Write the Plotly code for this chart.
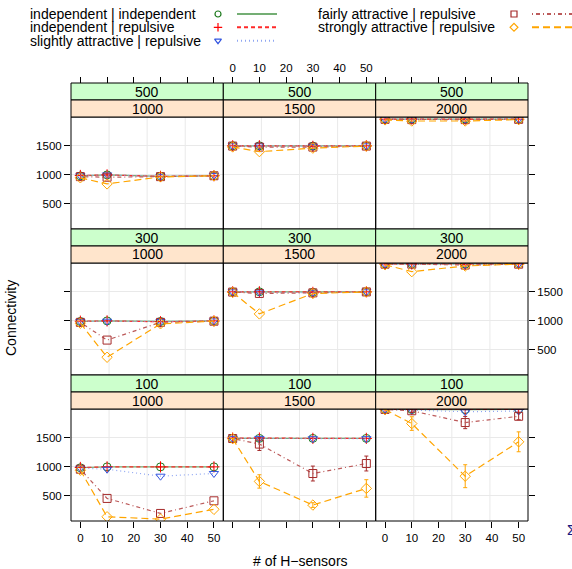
import plotly.graph_objects as go

W, H = 572, 569

# ---------------- data ----------------
x_vals = [0, 10, 30, 50]
outer_levels = ["500", "300", "100"]      # green strips (rows, top -> bottom)
inner_levels = ["1000", "1500", "2000"]   # orange strips (columns)
x_ticks = [0, 10, 20, 30, 40, 50]
y_ticks = [500, 1000, 1500]
series_names = ["independent | independent", "independent | repulsive",
                "slightly attractive | repulsive", "fairly attractive | repulsive",
                "strongly attractive | repulsive"]

# one list per panel, panels in row-major order (500/1000, 500/1500, ..., 100/2000)
indep_indep = [
    [983, 1000, 975, 985], [1500, 1500, 1495, 1500], [1958, 1960, 1960, 1958],
    [990, 1000, 990, 1000], [1500, 1500, 1490, 1500], [1978, 1978, 1975, 1978],
    [985, 1000, 1000, 1000], [1490, 1490, 1490, 1490], [1990, 1985, 1985, 1988],
]
indep_rep = [
    [990, 1000, 975, 985], [1500, 1500, 1490, 1500], [1958, 1960, 1958, 1958],
    [995, 1000, 985, 1000], [1500, 1500, 1490, 1500], [1978, 1978, 1972, 1978],
    [990, 1000, 1000, 1000], [1495, 1495, 1490, 1490], [1990, 1988, 1985, 1988],
]
slight_rep = [
    [985, 1000, 975, 990], [1500, 1500, 1490, 1500], [1958, 1955, 1955, 1958],
    [990, 995, 990, 1000], [1500, 1495, 1485, 1500], [1975, 1975, 1968, 1978],
    [980, 960, 840, 887], [1490, 1490, 1485, 1485], [1990, 1980, 1948, 1960],
]
fair_rep = [
    [970, 960, 970, 985], [1495, 1478, 1478, 1495], [1955, 1950, 1950, 1955],
    [975, 670, 975, 995], [1495, 1472, 1482, 1498], [1975, 1975, 1960, 1975],
    [960, 458, 200, 417], [1488, 1392, 886, 1058], [1988, 1965, 1762, 1870],
]
fair_rep_err = [
    [0, 0, 0, 0], [0, 0, 0, 0], [0, 0, 0, 0],
    [0, 0, 0, 0], [0, 0, 0, 0], [0, 0, 0, 0],
    [0, 0, 0, 0], [0, 110, 128, 128], [0, 30, 105, 60],
]
strong_rep = [
    [950, 845, 965, 985], [1480, 1400, 1460, 1495], [1945, 1926, 1926, 1950],
    [960, 375, 950, 995], [1490, 1120, 1470, 1498], [1965, 1846, 1944, 1975],
    [943, 143, 103, 270], [1485, 750, 344, 630], [1985, 1745, 840, 1431],
]
strong_rep_err = [
    [0, 0, 0, 0], [0, 0, 0, 0], [0, 0, 0, 0],
    [0, 0, 0, 0], [0, 0, 0, 0], [0, 0, 0, 0],
    [0, 0, 0, 0], [0, 115, 40, 150], [0, 117, 197, 171],
]

series_values = [indep_indep, indep_rep, slight_rep, fair_rep, strong_rep]
series_errors = [None, None, None, fair_rep_err, strong_rep_err]

# ---------------- styles ----------------
FONT = "Liberation Sans, Arial, Helvetica, sans-serif"
styles = [
    dict(symbol="circle-open", mcolor="#1E7A1E", lcolor="#74AE74", dash="solid"),
    dict(symbol="cross-thin-open", mcolor="#FF0000", lcolor="#FF2A2A", dash="4px,3px"),
    dict(symbol="triangle-down-open", mcolor="#3355E0", lcolor="#8FA6F2", dash="1px,3px"),
    dict(symbol="square-open", mcolor="#A52A2A", lcolor="#BC5A5A", dash="1px,3px,4px,3px"),
    dict(symbol="diamond-open", mcolor="#FFA500", lcolor="#FFA500", dash="7px,4px"),
]
GREEN_STRIP = "#CCFFCC"
ORANGE_STRIP = "#FFE5CC"
GRID = "#E9E9E9"

col_edges = [71, 223.3, 375.7, 528]
row_tops = [83, 229, 375]
STRIP_H = 17
PANEL_H = 112
X_RANGE = [-3.5, 53.5]
Y_RANGE = [70, 1995]

fig = go.Figure()
shapes = []
annotations = []

for r in range(3):
    for c in range(3):
        k = r * 3 + c + 1
        p = r * 3 + c
        xa = "x" if k == 1 else f"x{k}"
        ya = "y" if k == 1 else f"y{k}"
        for s in range(5):
            st = styles[s]
            err = series_errors[s]
            tr = go.Scatter(
                x=x_vals, y=series_values[s][p], xaxis=xa, yaxis=ya,
                mode="lines+markers", showlegend=False,
                line=dict(color=st["lcolor"], width=1.2, dash=st["dash"]),
                marker=dict(symbol=st["symbol"], size=8, color=st["mcolor"],
                            line=dict(color=st["mcolor"], width=1)),
            )
            if err is not None and any(v > 0 for v in err[p]):
                tr.error_y = dict(type="data", array=err[p], visible=True,
                                  color=st["mcolor"], thickness=1, width=2)
            fig.add_trace(tr)

        x0p, x1p = col_edges[c], col_edges[c + 1]
        top = row_tops[r]
        ptop = top + 2 * STRIP_H
        pbot = ptop + PANEL_H
        xdom = [x0p / W, x1p / W]
        ydom = [1 - pbot / H, 1 - ptop / H]

        xaxis = dict(domain=xdom, range=X_RANGE, tickvals=x_ticks, showgrid=False,
                     zeroline=False, showline=False, ticklen=6, tickwidth=1,
                     tickcolor="black", tickfont=dict(size=11.5, color="black", family=FONT),
                     fixedrange=True)
        if r == 2:
            xaxis.update(ticks="outside", side="bottom", anchor=ya, showticklabels=(c != 1))
        elif r == 0:
            xaxis.update(ticks="outside", side="top", anchor="free",
                         position=1 - row_tops[0] / H, showticklabels=(c == 1))
        else:
            xaxis.update(ticks="", showticklabels=False, anchor=ya)

        yaxis = dict(domain=ydom, range=Y_RANGE, tickvals=y_ticks, showgrid=True,
                     gridcolor=GRID, gridwidth=1, zeroline=False, showline=False,
                     ticklen=6, tickwidth=1, tickcolor="black", anchor=xa,
                     tickfont=dict(size=11.5, color="black", family=FONT),
                     fixedrange=True)
        if c == 0:
            yaxis.update(side="left", ticks="outside", showticklabels=(r != 1))
        elif c == 2:
            yaxis.update(side="right", ticks="outside", showticklabels=(r == 1))
        else:
            yaxis.update(ticks="", showticklabels=False)

        fig.layout["xaxis" if k == 1 else f"xaxis{k}"] = xaxis
        fig.layout["yaxis" if k == 1 else f"yaxis{k}"] = yaxis

        # vertical grid lines at equal divisions of the panel
        for f in (0.25, 0.5, 0.75):
            shapes.append(dict(type="line", xref=f"{xa} domain", yref=f"{ya} domain",
                               x0=f, x1=f, y0=0, y1=1, layer="below",
                               line=dict(color=GRID, width=1)))
        # panel border
        shapes.append(dict(type="rect", xref="paper", yref="paper",
                           x0=x0p / W, x1=x1p / W, y0=1 - pbot / H, y1=1 - ptop / H,
                           layer="above", line=dict(color="black", width=1)))
        # strips
        for j, (lab, col) in enumerate([(outer_levels[r], GREEN_STRIP),
                                        (inner_levels[c], ORANGE_STRIP)]):
            sy0 = top + j * STRIP_H
            sy1 = sy0 + STRIP_H
            shapes.append(dict(type="rect", xref="paper", yref="paper",
                               x0=x0p / W, x1=x1p / W, y0=1 - sy1 / H, y1=1 - sy0 / H,
                               layer="above", fillcolor=col,
                               line=dict(color="black", width=1)))
            annotations.append(dict(text=lab, xref="paper", yref="paper",
                                    x=(x0p + x1p) / 2 / W, y=1 - (sy0 + sy1) / 2 / H,
                                    xanchor="center", yanchor="middle", showarrow=False,
                                    font=dict(size=14, color="black", family=FONT)))

# ---------------- legend (key) ----------------
leg_ax = dict(domain=[0, 1], visible=False, fixedrange=True)
fig.layout["xaxis10"] = dict(leg_ax, range=[0, W], anchor="y10")
fig.layout["yaxis10"] = dict(leg_ax, range=[H, 0], anchor="x10")

legend_pos = [  # (text x, marker x, line x0, line x1, y)
    (28, 218, 237, 277, 14),
    (28, 218, 237, 277, 27.3),
    (28, 218, 237, 277, 40.7),
    (316, 514, 532, 578, 14),
    (316, 514, 532, 578, 27.3),
]
for s, (tx, mx, lx0, lx1, ly) in enumerate(legend_pos):
    st = styles[s]
    annotations.append(dict(text=series_names[s], xref="paper", yref="paper",
                            x=tx / W, y=1 - ly / H, xanchor="left", yanchor="middle",
                            showarrow=False,
                            font=dict(size=14, color="black", family=FONT)))
    fig.add_trace(go.Scatter(x=[mx], y=[ly], xaxis="x10", yaxis="y10", mode="markers",
                             showlegend=False, cliponaxis=False,
                             marker=dict(symbol=st["symbol"], size=6, color=st["mcolor"],
                                         line=dict(color=st["mcolor"], width=1.2))))
    fig.add_trace(go.Scatter(x=[lx0, lx1], y=[ly, ly], xaxis="x10", yaxis="y10",
                             mode="lines", showlegend=False, cliponaxis=False,
                             line=dict(color=st["lcolor"], width=2, dash=st["dash"])))

# axis titles
annotations.append(dict(text="# of H\u2212sensors", xref="paper", yref="paper",
                        x=300 / W, y=1 - 561 / H, xanchor="center", yanchor="middle",
                        showarrow=False, font=dict(size=14, color="black", family=FONT)))
annotations.append(dict(text="Connectivity", xref="paper", yref="paper",
                        x=11 / W, y=1 - 318 / H, xanchor="center", yanchor="middle",
                        textangle=-90, showarrow=False,
                        font=dict(size=14, color="black", family=FONT)))
# clipped glyph at the right edge
annotations.append(dict(text="\u03a3", xref="paper", yref="paper",
                        x=565 / W, y=1 - 530 / H, xanchor="left", yanchor="middle",
                        showarrow=False, font=dict(size=14, color="#1A1A80", family=FONT)))

fig.update_layout(
    width=W, height=H, margin=dict(l=0, r=0, t=0, b=0),
    paper_bgcolor="white", plot_bgcolor="rgba(0,0,0,0)",
    shapes=shapes, annotations=annotations, showlegend=False,
    font=dict(family=FONT, color="black"),
)

fig.write_html("out.html", config={"displayModeBar": False},
               post_script="document.body.style.margin='0';document.body.style.overflow='hidden';")
